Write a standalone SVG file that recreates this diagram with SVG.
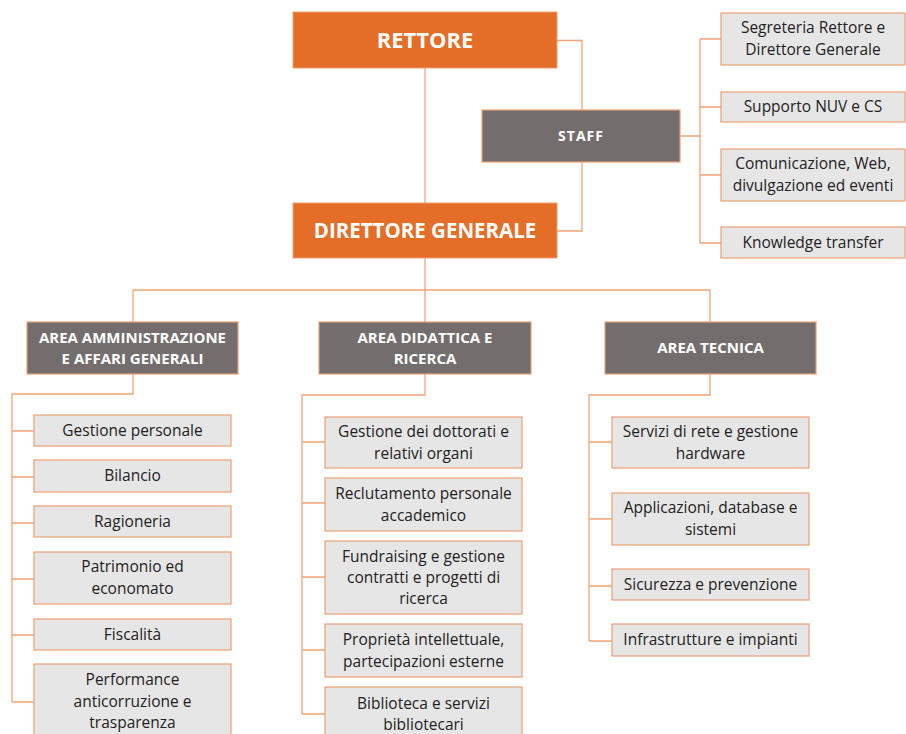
<svg xmlns="http://www.w3.org/2000/svg" width="906" height="734" viewBox="0 0 906 734">
<style>
.top{fill:#E46D27;stroke:#EC9F73;stroke-width:1}
.area{fill:#736E6D;stroke:#EC9F73;stroke-width:1.2}
.box{fill:#E7E6E6;stroke:#EC9F73;stroke-width:1.2}
.conn{fill:none;stroke:#EFA47A;stroke-width:1.3}
text{font-family:"Open Sans","Liberation Sans",sans-serif;text-anchor:middle}
.tt{fill:#fff;font-weight:bold;font-size:20.5px}
.at{fill:#fff;font-weight:bold;font-size:15px}
.bt{fill:#222;font-size:15.5px}
</style>
<rect width="906" height="734" fill="#fff"/>
<g id="connectors">
<path class="conn" d="M425 68V203M557 40.5H582V110M582 162V231H557M680 136H700M700 39V243M700 39H721M700 107H721M700 175H721M700 243H721"/>
<path class="conn" d="M425 258V322M133 322V290H710V322"/>
<path class="conn" d="M133 374V394H12V702M12 431H34M12 477H34M12 523H34M12 579H34M12 635H34M12 702H34"/>
<path class="conn" d="M425 374V395H302V714M302 442H325M302 503H325M302 577H325M302 650H325M302 714H325"/>
<path class="conn" d="M710 374V395H589V641M589 442H612M589 519H612M589 586H612M589 641H612"/>
</g>
<g id="rettore"><rect class="top" x="293" y="12" width="264" height="56"/><text class="tt" x="425" y="48" style="font-size:22px">RETTORE</text></g>
<g id="direttore"><rect class="top" x="293" y="203" width="264" height="55"/><text class="tt" x="425" y="238">DIRETTORE GENERALE</text></g>
<g id="staff"><rect class="area" x="482" y="110" width="198" height="52"/><text class="at" x="581" y="141" style="letter-spacing:1px;font-size:14px">STAFF</text></g>
<g id="s1"><rect class="box" x="721" y="13" width="184" height="52"/><text class="bt" x="813" y="33">Segreteria Rettore e</text><text class="bt" x="813" y="55">Direttore Generale</text></g>
<g id="s2"><rect class="box" x="721" y="92" width="184" height="30"/><text class="bt" x="813" y="112">Supporto NUV e CS</text></g>
<g id="s3"><rect class="box" x="721" y="149" width="184" height="52"/><text class="bt" x="813" y="169">Comunicazione, Web,</text><text class="bt" x="813" y="191">divulgazione ed eventi</text></g>
<g id="s4"><rect class="box" x="721" y="227" width="184" height="31"/><text class="bt" x="813" y="248">Knowledge transfer</text></g>
<g id="area-amm"><rect class="area" x="27" y="322" width="211" height="52"/><text class="at" x="132.5" y="343">AREA AMMINISTRAZIONE</text><text class="at" x="132.5" y="364">E AFFARI GENERALI</text></g>
<g id="area-did"><rect class="area" x="319" y="322" width="212" height="52"/><text class="at" x="425" y="343">AREA DIDATTICA E</text><text class="at" x="425" y="364">RICERCA</text></g>
<g id="area-tec"><rect class="area" x="605" y="322" width="211" height="52"/><text class="at" x="710.5" y="353">AREA TECNICA</text></g>
<g id="a1"><rect class="box" x="34" y="415" width="197" height="31"/><text class="bt" x="132.5" y="436">Gestione personale</text></g>
<g id="a2"><rect class="box" x="34" y="460" width="197" height="32"/><text class="bt" x="132.5" y="481">Bilancio</text></g>
<g id="a3"><rect class="box" x="34" y="506" width="197" height="31"/><text class="bt" x="132.5" y="527">Ragioneria</text></g>
<g id="a4"><rect class="box" x="34" y="552" width="197" height="52"/><text class="bt" x="132.5" y="572">Patrimonio ed</text><text class="bt" x="132.5" y="594">economato</text></g>
<g id="a5"><rect class="box" x="34" y="619" width="197" height="31"/><text class="bt" x="132.5" y="640">Fiscalità</text></g>
<g id="a6"><rect class="box" x="34" y="664" width="197" height="85"/><text class="bt" x="132.5" y="685">Performance</text><text class="bt" x="132.5" y="707">anticorruzione e</text><text class="bt" x="132.5" y="728">trasparenza</text></g>
<g id="d1"><rect class="box" x="325" y="417" width="197" height="51"/><text class="bt" x="423.5" y="437">Gestione dei dottorati e</text><text class="bt" x="423.5" y="459">relativi organi</text></g>
<g id="d2"><rect class="box" x="325" y="478" width="197" height="53"/><text class="bt" x="423.5" y="499">Reclutamento personale</text><text class="bt" x="423.5" y="521">accademico</text></g>
<g id="d3"><rect class="box" x="325" y="541" width="197" height="73"/><text class="bt" x="423.5" y="562">Fundraising e gestione</text><text class="bt" x="423.5" y="583">contratti e progetti di</text><text class="bt" x="423.5" y="604">ricerca</text></g>
<g id="d4"><rect class="box" x="325" y="624" width="197" height="53"/><text class="bt" x="423.5" y="645">Proprietà intellettuale,</text><text class="bt" x="423.5" y="667">partecipazioni esterne</text></g>
<g id="d5"><rect class="box" x="325" y="687" width="197" height="60"/><text class="bt" x="423.5" y="709">Biblioteca e servizi</text><text class="bt" x="423.5" y="730">bibliotecari</text></g>
<g id="t1"><rect class="box" x="612" y="417" width="197" height="51"/><text class="bt" x="710.5" y="437">Servizi di rete e gestione</text><text class="bt" x="710.5" y="459">hardware</text></g>
<g id="t2"><rect class="box" x="612" y="493" width="197" height="52"/><text class="bt" x="710.5" y="513">Applicazioni, database e</text><text class="bt" x="710.5" y="535">sistemi</text></g>
<g id="t3"><rect class="box" x="612" y="569" width="197" height="31"/><text class="bt" x="710.5" y="590">Sicurezza e prevenzione</text></g>
<g id="t4"><rect class="box" x="612" y="624" width="197" height="32"/><text class="bt" x="710.5" y="645">Infrastrutture e impianti</text></g>
</svg>
